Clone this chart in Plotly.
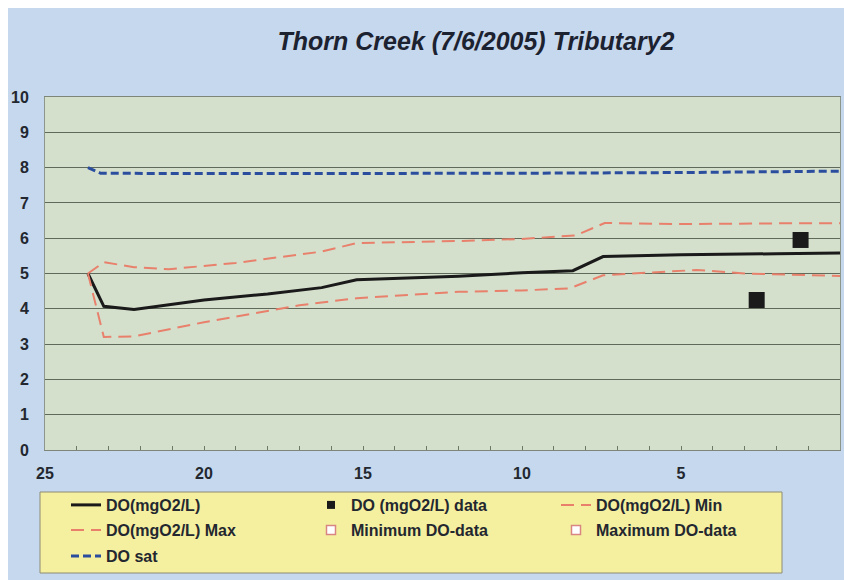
import plotly.graph_objects as go

# Distance upstream (km) and dissolved oxygen (mg O2/L)
km_do = [23.65, 23.15, 22.2, 20.0, 18.0, 16.3, 15.2, 12.0, 10.0, 8.4, 7.45, 5.0, 2.0, 0.0]
do_model = [5.0, 4.07, 3.98, 4.25, 4.42, 4.6, 4.82, 4.92, 5.02, 5.08, 5.48, 5.53, 5.56, 5.58]

km_max = [23.65, 23.15, 22.2, 21.1, 19.0, 16.3, 15.2, 12.0, 10.0, 8.3, 7.4, 5.0, 2.0, 0.0]
do_max = [5.0, 5.32, 5.18, 5.12, 5.3, 5.62, 5.86, 5.92, 5.98, 6.08, 6.43, 6.4, 6.42, 6.42]

km_min = [23.65, 23.15, 22.2, 20.0, 17.0, 15.2, 12.0, 10.0, 8.5, 7.45, 5.5, 4.5, 3.0, 0.0]
do_min = [5.0, 3.2, 3.22, 3.62, 4.1, 4.3, 4.48, 4.52, 4.58, 4.95, 5.05, 5.1, 5.0, 4.93]

km_sat = [23.65, 23.25, 20.0, 15.0, 10.0, 5.0, 0.0]
do_sat = [8.0, 7.84, 7.83, 7.83, 7.84, 7.86, 7.9]

km_obs = [2.62, 1.24]
do_obs = [4.25, 5.95]

x_ticks = [25, 20, 15, 10, 5, 0]
y_ticks = list(range(0, 11))

TITLE = "Thorn Creek (7/6/2005) Tributary2"

# Figure geometry (pixels) and helpers to place layout items in paper units
W, H = 844, 580
ML, MR, MT, MB = 45, 4, 97, 130
PW, PH = W - ML - MR, H - MT - MB


def px_x(px):
    return (px - ML) / PW


def px_y(py):
    return (H - MB - py) / PH


OUTER_BG = "#c5d8ee"
PLOT_BG = "#d4e0cc"
LEGEND_BG = "#f5efa0"
TEXT = "#23272f"
SALMON = "#e8806c"
NAVY = "#2b4d9e"
INK = "#1a1a1a"
FONT = "Liberation Sans"

fig = go.Figure()

fig.add_trace(go.Scatter(
    x=km_do, y=do_model, mode="lines", name="DO(mgO2/L)",
    line=dict(color=INK, width=3), legend="legend"))
# legend swatch for the observations (small square), then the observations
fig.add_trace(go.Scatter(
    x=[None], y=[None], mode="markers", name="DO (mgO2/L) data",
    marker=dict(symbol="square", size=8, color=INK), legend="legend"))
fig.add_trace(go.Scatter(
    x=km_min, y=do_min, mode="lines", name="DO(mgO2/L) Min",
    line=dict(color=SALMON, width=2, dash="13px,7px"), legend="legend"))
fig.add_trace(go.Scatter(
    x=km_max, y=do_max, mode="lines", name="DO(mgO2/L) Max",
    line=dict(color=SALMON, width=2, dash="13px,7px"), legend="legend2"))
fig.add_trace(go.Scatter(
    x=[None], y=[None], mode="markers", name="Minimum DO-data",
    marker=dict(symbol="square", size=9, color="white",
                line=dict(color="#d98682", width=1.5)), legend="legend2"))
fig.add_trace(go.Scatter(
    x=[None], y=[None], mode="markers", name="Maximum DO-data",
    marker=dict(symbol="square", size=9, color="white",
                line=dict(color="#d98682", width=1.5)), legend="legend2"))
fig.add_trace(go.Scatter(
    x=km_sat, y=do_sat, mode="lines", name="DO sat",
    line=dict(color=NAVY, width=3, dash="8px,4px"), legend="legend3"))
fig.add_trace(go.Scatter(
    x=km_obs, y=do_obs, mode="markers", name="DO (mgO2/L) data",
    marker=dict(symbol="square", size=16, color=INK), showlegend=False))

legend_font = dict(family=FONT, size=16, color=TEXT, weight="bold")
row_y = [505, 530, 556]
legend_common = dict(
    orientation="h", x=px_x(66), xanchor="left", yanchor="middle",
    entrywidth=200, entrywidthmode="pixels", bgcolor="rgba(0,0,0,0)",
    borderwidth=0, font=legend_font, itemwidth=30, itemclick=False)

fig.update_layout(
    width=W, height=H,
    margin=dict(l=ML, r=MR, t=MT, b=MB, autoexpand=False),
    paper_bgcolor=OUTER_BG,
    plot_bgcolor=PLOT_BG,
    title=dict(text=TITLE, x=px_x(476), xref="paper", xanchor="center",
               y=1 - 41 / H, yanchor="middle",
               font=dict(family=FONT, size=25, color="#1c2230",
                         weight="bold", style="italic")),
    legend=dict(legend_common, y=px_y(row_y[0])),
    legend2=dict(legend_common, y=px_y(row_y[1])),
    legend3=dict(legend_common, y=px_y(row_y[2])),
    xaxis=dict(
        range=[25, 0], tickvals=x_ticks, ticks="inside", ticklen=4,
        tickcolor="#6e7869", minor=dict(dtick=1, ticks="inside", ticklen=4,
                                        tickcolor="#6e7869"),
        showgrid=False, zeroline=False, showline=True, linecolor="#7d8679",
        linewidth=1, mirror=True, ticklabelstandoff=9,
        tickfont=dict(family=FONT, size=16, color=TEXT, weight="bold")),
    yaxis=dict(
        range=[0, 10], tickvals=y_ticks, ticks="", showgrid=True,
        gridcolor="#5f6a5a", gridwidth=1, zeroline=False, showline=True,
        linecolor="#8c968a", linewidth=1, mirror=True, ticklabelstandoff=12,
        tickfont=dict(family=FONT, size=16, color=TEXT, weight="bold")),
    shapes=[
        # white frame strips along the top and left edges
        dict(type="rect", xref="paper", yref="paper", layer="below",
             x0=px_x(0), x1=px_x(W), y0=px_y(8), y1=px_y(0),
             fillcolor="white", line=dict(width=0)),
        dict(type="rect", xref="paper", yref="paper", layer="below",
             x0=px_x(0), x1=px_x(8), y0=px_y(H), y1=px_y(0),
             fillcolor="white", line=dict(width=0)),
        # legend box
        dict(type="rect", xref="paper", yref="paper", layer="below",
             x0=px_x(40), x1=px_x(782), y0=px_y(573), y1=px_y(492),
             fillcolor=LEGEND_BG, line=dict(color="#8e8c74", width=1)),
    ],
)

fig.write_html("out.html")
